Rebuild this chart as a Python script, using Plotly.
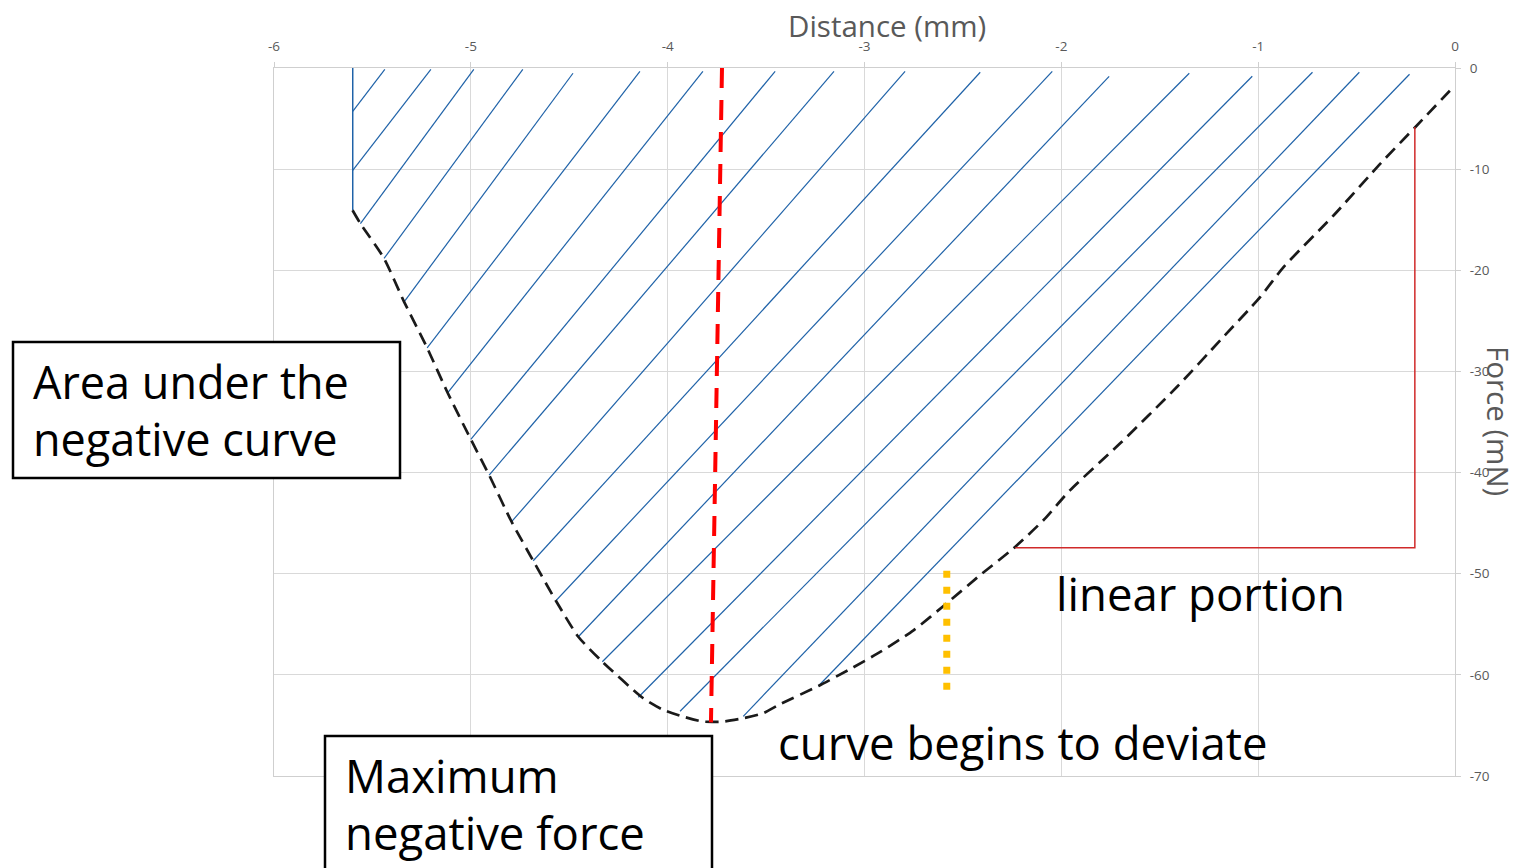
import plotly.graph_objects as go

# ---------------- data (axis units) ----------------
curve_x = [-5.601, -5.561, -5.441, -5.339, -5.222, -5.118, -5.000, -4.907, -4.793, -4.683,
           -4.568, -4.454, -4.332, -4.124, -4.022, -3.921, -3.819, -3.717, -3.616, -3.514,
           -3.429, -3.234, -3.080, -2.918, -2.751, -2.582, -2.412, -2.243, -2.090, -1.955,
           -1.701, -1.412, -1.192, -0.989, -0.870, -0.616, -0.379, -0.201, 0.0]
curve_y = [-14.06, -15.38, -18.83, -23.12, -27.67, -32.11, -36.72, -40.25, -44.86, -48.72,
           -52.67, -56.23, -58.70, -62.31, -63.47, -64.13, -64.62, -64.62, -64.29, -63.79,
           -62.90, -61.10, -59.50, -57.71, -55.60, -52.92, -50.13, -47.49, -44.69, -41.73,
           -37.11, -31.52, -26.91, -22.63, -19.66, -14.56, -9.45, -5.83, -1.71]

# hatch lines: top end and bottom end
hatch_x_top = [-5.437, -5.203, -4.985, -4.736, -4.481, -4.141, -3.821, -3.454, -3.155,
               -2.794, -2.412, -2.046, -1.757, -1.350, -1.030, -0.724, -0.486, -0.231]
hatch_y_top = [-0.13, -0.13, -0.13, -0.13, -0.52, -0.33, -0.33, -0.33, -0.33,
               -0.33, -0.42, -0.33, -0.82, -0.52, -0.82, -0.42, -0.42, -0.62]
hatch_x_bot = [-5.600, -5.600, -5.561, -5.441, -5.339, -5.222, -5.118, -5.000, -4.907,
               -4.793, -4.683, -4.568, -4.454, -4.332, -4.149, -3.937, -3.616, -3.234]
hatch_y_bot = [-4.28, -10.11, -15.38, -18.83, -23.12, -27.67, -32.11, -36.72, -40.25,
               -44.86, -48.72, -52.67, -56.23, -58.70, -62.21, -63.60, -64.10, -61.10]

edge_x = [-5.600, -5.600]
edge_y = [0.0, -14.06]

max_force_x = [-3.724, -3.780]
max_force_y = [0.0, -64.7]

deviate_x = [-2.582, -2.582]
deviate_y = [-49.7, -62.2]

linear_x = [-0.204, -0.204, -2.234]
linear_y = [-5.83, -47.43, -47.43]

x_ticks = [-6, -5, -4, -3, -2, -1, 0]
x_tick_text = ["-6", "-5", "-4", "-3", "-2", "-1", "0"]
y_ticks = [0, -10, -20, -30, -40, -50, -60, -70]
y_tick_text = ["0", "-10", "-20", "-30", "-40", "-50", "-60", "-70"]

# ---------------- figure ----------------
fig = go.Figure()

hx, hy = [], []
for xt, yt, xb, yb in zip(hatch_x_top, hatch_y_top, hatch_x_bot, hatch_y_bot):
    hx += [xt, xb, None]
    hy += [yt, yb, None]
fig.add_trace(go.Scatter(x=hx, y=hy, mode="lines",
                         line=dict(color="#1f62a8", width=1.2), hoverinfo="skip"))
fig.add_trace(go.Scatter(x=edge_x, y=edge_y, mode="lines",
                         line=dict(color="#1f62a8", width=1.5), hoverinfo="skip"))
fig.add_trace(go.Scatter(x=curve_x, y=curve_y, mode="lines", line_shape="spline",
                         line=dict(color="#1a1a1a", width=2.7, smoothing=0.6, dash="13px,7px")))
fig.add_trace(go.Scatter(x=max_force_x, y=max_force_y, mode="lines",
                         line=dict(color="#ff0000", width=4, dash="20px,12px")))
fig.add_trace(go.Scatter(x=deviate_x, y=deviate_y, mode="lines",
                         line=dict(color="#ffc000", width=7, dash="7px,9px")))
fig.add_trace(go.Scatter(x=linear_x, y=linear_y, mode="lines",
                         line=dict(color="#d02a2a", width=1.5)))

axis_font = dict(family="Open Sans, sans-serif", size=13.5, color="#595959")
fig.update_xaxes(range=[-6, 0], side="top", tickvals=x_ticks, ticktext=x_tick_text,
                 showgrid=True, gridcolor="#d9d9d9", gridwidth=1, zeroline=False,
                 showline=True, linecolor="#cfcfcf", mirror=True,
                 ticks="outside", ticklen=5, tickcolor="#cfcfcf", tickfont=axis_font,
                 ticklabelstandoff=6)
fig.update_yaxes(range=[-70, 0], side="right", tickvals=y_ticks, ticktext=y_tick_text,
                 showgrid=True, gridcolor="#d9d9d9", gridwidth=1, zeroline=False,
                 showline=True, linecolor="#cfcfcf", mirror=True,
                 ticks="outside", ticklen=5, tickcolor="#cfcfcf", tickfont=axis_font,
                 ticklabelstandoff=6)

# page has an 8px body margin; figure is sized so that the plot lands where the reference has it
OFF = 8
W, H = 1517 - OFF, 868 - OFF
L, R, T, B = 274 - OFF, 62, 68 - OFF, 92
pw, ph = W - L - R, H - T - B

def px(x):
    return (x - OFF - L) / pw

def py(y):
    return (H - B - (y - OFF)) / ph

big = dict(family="Open Sans, sans-serif", size=45.5, color="#000000")
title_font = dict(family="Open Sans, sans-serif", size=29.5, color="#595959")

shapes = [
    dict(type="rect", xref="paper", yref="paper", x0=px(13), x1=px(400), y0=py(478), y1=py(342),
         line=dict(color="#000000", width=2.5), fillcolor="#ffffff", layer="above"),
    dict(type="rect", xref="paper", yref="paper", x0=px(325), x1=px(712), y0=py(880), y1=py(736),
         line=dict(color="#000000", width=2.5), fillcolor="#ffffff", layer="above"),
]

def label(text, x, y, font=big, **kw):
    d = dict(text=text, xref="paper", yref="paper", x=px(x), y=py(y), showarrow=False,
             font=font, xanchor="left", yanchor="middle")
    d.update(kw)
    return d

annotations = [
    label("Distance (mm)", 887, 26, font=title_font, xanchor="center"),
    label("Force (mN)", 1499, 421, font=title_font, xanchor="center", textangle=90),
    label("Area under the", 31, 381, font=dict(big, size=45)),
    label("negative curve", 31, 438, font=dict(big, size=45)),
    label("Maximum", 343, 775),
    label("negative force", 343, 832),
    label("linear portion", 1054, 593),
    label("curve begins to deviate", 776, 742),
]

fig.update_layout(width=W, height=H, margin=dict(l=L, r=R, t=T, b=B, autoexpand=False),
                  plot_bgcolor="#ffffff", paper_bgcolor="#ffffff", showlegend=False,
                  shapes=shapes, annotations=annotations)

fig.write_html("out.html")
